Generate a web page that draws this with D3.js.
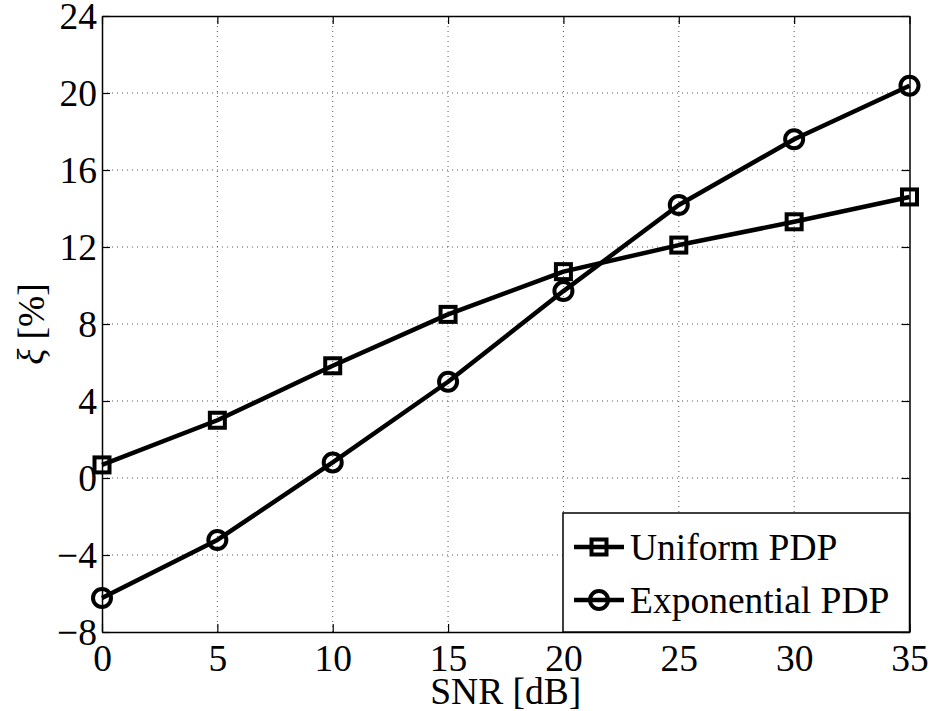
<!DOCTYPE html>
<html><head><meta charset="utf-8">
<script src="https://cdn.jsdelivr.net/npm/d3@7"></script>
<style>body{margin:0;background:#fff}svg{display:block}</style>
</head><body>
<svg id="c" width="930" height="711"></svg>
<script>
const snr = [0, 5, 10, 15, 20, 25, 30, 35];
const uniformPDP = [0.68, 3.0, 5.83, 8.5, 10.72, 12.1, 13.31, 14.6];
const exponentialPDP = [-6.23, -3.22, 0.81, 5.0, 9.71, 14.18, 17.6, 20.38];
const xTicks = [0, 5, 10, 15, 20, 25, 30, 35];
const yTicks = [-8, -4, 0, 4, 8, 12, 16, 20, 24];
const seriesNames = ["Uniform PDP", "Exponential PDP"];

const svg = d3.select("#c");
const L = 102, R = 909.5, T = 16, B = 632;
const x = d3.scaleLinear().domain([0, 35]).range([L, R]);
const y = d3.scaleLinear().domain([-8, 24]).range([B, T]);
const font = "'Liberation Serif','Times New Roman',serif";
const fs = 37.5;

// grid
const g = svg.append("g");
g.selectAll(".gx").data(xTicks.slice(1, -1)).enter().append("line")
  .attr("x1", d => x(d)).attr("x2", d => x(d)).attr("y1", T).attr("y2", B)
  .attr("stroke", "#555").attr("stroke-width", 1).attr("stroke-dasharray", "1,4");
g.selectAll(".gy").data(yTicks.slice(1, -1)).enter().append("line")
  .attr("y1", d => y(d)).attr("y2", d => y(d)).attr("x1", L).attr("x2", R)
  .attr("stroke", "#555").attr("stroke-width", 1).attr("stroke-dasharray", "1,4");

// axes
const axB = svg.append("g").attr("transform", `translate(0,${B})`)
  .call(d3.axisBottom(x).tickValues(xTicks).tickSizeInner(-8).tickSizeOuter(0).tickPadding(12));
const axL = svg.append("g").attr("transform", `translate(${L},0)`)
  .call(d3.axisLeft(y).tickValues(yTicks).tickSizeInner(-8).tickSizeOuter(0).tickPadding(5)
    .tickFormat(d => d < 0 ? "\u2212" + Math.abs(d) : d));
const axT = svg.append("g").attr("transform", `translate(0,${T})`)
  .call(d3.axisTop(x).tickValues(xTicks).tickSizeInner(-8).tickSizeOuter(0).tickFormat(""));
const axR = svg.append("g").attr("transform", `translate(${R},0)`)
  .call(d3.axisRight(y).tickValues(yTicks).tickSizeInner(-8).tickSizeOuter(0).tickFormat(""));
[axB, axL, axT, axR].forEach(a => {
  a.attr("font-family", font).attr("font-size", fs);
  a.select(".domain").attr("stroke", "#000").attr("stroke-width", 1.5);
  a.selectAll(".tick line").attr("stroke", "#000").attr("stroke-width", 1.2);
  a.selectAll("text").attr("font-family", font).attr("font-size", fs).attr("fill", "#000");
});
axB.selectAll("text").attr("dy", "0.71em");
axL.selectAll("text").attr("dy", "0.34em");

// labels
svg.append("text").attr("x", (L + R) / 2).attr("y", 704).attr("text-anchor", "middle")
  .attr("font-family", font).attr("font-size", fs).text("SNR [dB]");
const yl = svg.append("text").attr("transform", `translate(44,${(T + B) / 2}) rotate(-90)`)
  .attr("text-anchor", "middle").attr("font-family", font).attr("font-size", fs);
yl.append("tspan").attr("font-style", "italic").text("\u03BE");
yl.append("tspan").text(" [%]");

// lines
const line = d3.line().x((d, i) => x(snr[i])).y(d => y(d));
const data = [uniformPDP, exponentialPDP];
data.forEach((vals, k) => {
  svg.append("path").datum(vals).attr("d", line).attr("fill", "none")
    .attr("stroke", "#000").attr("stroke-width", 4.5).attr("stroke-linejoin", "round");
});
function marker(sel, k, cx, cy) {
  if (k === 0) {
    sel.append("rect").attr("x", cx - 7.5).attr("y", cy - 7.5).attr("width", 15).attr("height", 15)
      .attr("fill", "none").attr("stroke", "#000").attr("stroke-width", 4);
  } else {
    sel.append("circle").attr("cx", cx).attr("cy", cy).attr("r", 9)
      .attr("fill", "none").attr("stroke", "#000").attr("stroke-width", 4);
  }
}
data.forEach((vals, k) => {
  vals.forEach((v, i) => marker(svg, k, x(snr[i]), y(v)));
});

// legend
const lg = svg.append("g");
lg.append("rect").attr("x", 563).attr("y", 513).attr("width", R - 563).attr("height", B - 513)
  .attr("fill", "#fff").attr("stroke", "#000").attr("stroke-width", 1.5);
const rows = [547, 600];
seriesNames.forEach((n, k) => {
  lg.append("line").attr("x1", 574).attr("x2", 624).attr("y1", rows[k]).attr("y2", rows[k])
    .attr("stroke", "#000").attr("stroke-width", 4.5);
  marker(lg, k, 599, rows[k]);
  lg.append("text").attr("x", 630).attr("y", rows[k]).attr("dy", "0.35em")
    .attr("font-family", font).attr("font-size", fs).text(n);
});
</script>
</body></html>
